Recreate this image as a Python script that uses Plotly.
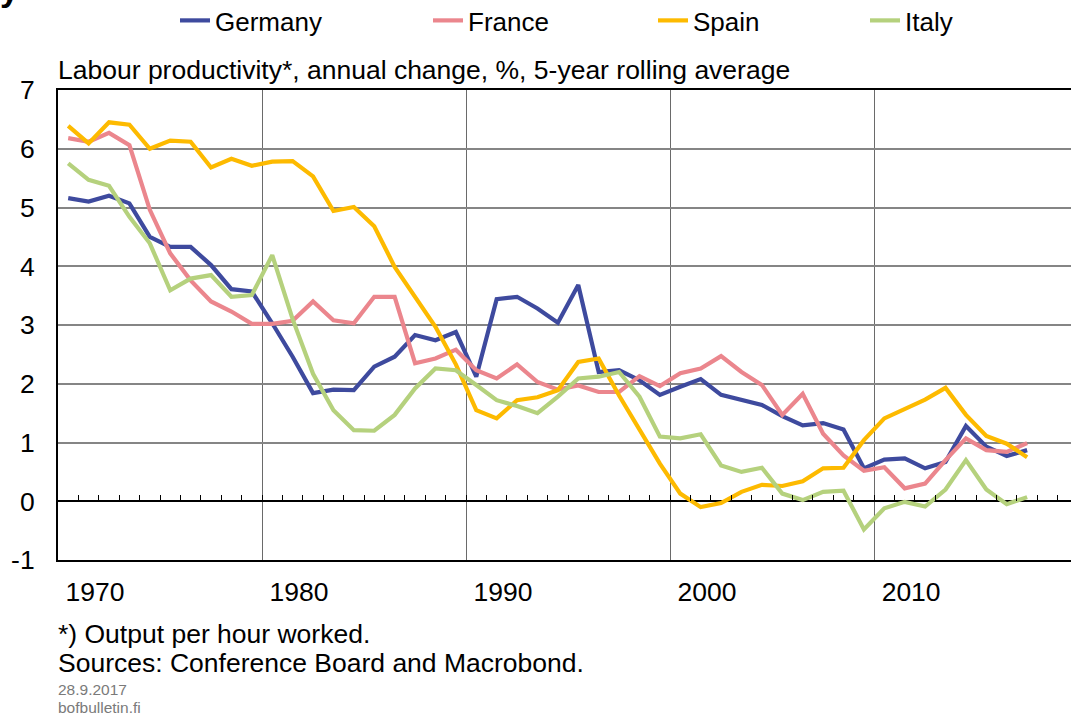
import plotly.graph_objects as go

# ---------------- data ----------------
years = list(range(1970, 2018))

germany = [5.16, 5.10, 5.20, 5.07, 4.50, 4.33, 4.33, 4.02, 3.61, 3.57,
           3.03, 2.46, 1.84, 1.90, 1.89, 2.29, 2.46, 2.83, 2.74, 2.88,
           2.12, 3.44, 3.48, 3.28, 3.04, 3.68, 2.20, 2.23, 2.06, 1.81,
           1.95, 2.08, 1.81, 1.72, 1.64, 1.45, 1.29, 1.33, 1.22, 0.56,
           0.71, 0.73, 0.56, 0.67, 1.28, 0.93, 0.77, 0.87]
france = [6.18, 6.12, 6.27, 6.06, 4.96, 4.22, 3.76, 3.40, 3.23, 3.02,
          3.02, 3.07, 3.40, 3.08, 3.03, 3.48, 3.48, 2.35, 2.43, 2.58,
          2.23, 2.09, 2.33, 2.03, 1.90, 1.97, 1.86, 1.86, 2.13, 1.96,
          2.18, 2.26, 2.47, 2.20, 1.98, 1.47, 1.83, 1.15, 0.78, 0.52,
          0.58, 0.22, 0.30, 0.70, 1.07, 0.87, 0.84, 0.99]
spain = [6.39, 6.09, 6.45, 6.41, 6.00, 6.14, 6.12, 5.68, 5.83, 5.71,
         5.78, 5.79, 5.53, 4.94, 5.01, 4.68, 3.99, 3.48, 2.97, 2.33,
         1.55, 1.41, 1.72, 1.77, 1.89, 2.37, 2.43, 1.80, 1.21, 0.64,
         0.13, -0.10, -0.03, 0.16, 0.28, 0.26, 0.34, 0.56, 0.57, 1.04,
         1.41, 1.58, 1.73, 1.93, 1.47, 1.11, 0.98, 0.75]
italy = [5.75, 5.47, 5.37, 4.84, 4.39, 3.59, 3.79, 3.85, 3.48, 3.51,
         4.19, 3.10, 2.17, 1.55, 1.21, 1.20, 1.47, 1.92, 2.26, 2.23,
         1.98, 1.72, 1.62, 1.50, 1.78, 2.09, 2.12, 2.20, 1.78, 1.10,
         1.07, 1.14, 0.61, 0.50, 0.57, 0.13, 0.02, 0.16, 0.18, -0.48,
         -0.12, -0.01, -0.09, 0.20, 0.70, 0.20, -0.05, 0.07]

series_names = ["Germany", "France", "Spain", "Italy"]
series_values = [germany, france, spain, italy]
series_colors = ["#3E4A9E", "#EB868D", "#FDBA00", "#B5D17D"]

x_tick_years = [1970, 1980, 1990, 2000, 2010]
x_tick_labels = ["1970", "1980", "1990", "2000", "2010"]
y_ticks = [-1, 0, 1, 2, 3, 4, 5, 6, 7]
y_tick_labels = ["-1", "0", "1", "2", "3", "4", "5", "6", "7"]

subtitle = "Labour productivity*, annual change, %, 5-year rolling average"
footnote1 = "*) Output per hour worked."
footnote2 = "Sources: Conference Board and Macrobond."
date_text = "28.9.2017"
site_text = "bofbulletin.fi"

# ---------------- layout geometry ----------------
W, H = 1071, 718
L, R, T, B = 58, 1071, 90, 560
PW, PH = R - L, B - T


def px(x):
    return (x - L) / PW


def py(y):
    return (B - y) / PH


FONT = "Arial, 'Liberation Sans', sans-serif"
TXT = 26.5
x_mid = [y + 0.5 for y in years]  # annual values plotted at mid-year
x_range = [1970, 2019.65]

fig = go.Figure()
legend_keys = ["legend", "legend2", "legend3", "legend4"]
for name, vals, col, lg in zip(series_names, series_values, series_colors, legend_keys):
    fig.add_trace(go.Scatter(
        x=x_mid, y=vals, name=name, mode="lines",
        line=dict(color=col, width=4.2), legend=lg,
    ))

# invisible trace to carry the yearly tick axis on the zero line
fig.add_trace(go.Scatter(x=years, y=[None] * len(years), xaxis="x2",
                         showlegend=False, hoverinfo="skip"))

legend_x_px = [175, 428, 653, 865]
legend_common = dict(orientation="h", xanchor="left", yanchor="top",
                     font=dict(family=FONT, size=26, color="#000000"),
                     bgcolor="rgba(0,0,0,0)", borderwidth=0)
legends = {}
for lg, lx in zip(legend_keys, legend_x_px):
    legends[lg] = dict(x=px(lx), y=py(-3), **legend_common)

fig.update_layout(
    width=W, height=H,
    margin=dict(l=L, r=W - R, t=T, b=H - B, pad=0, autoexpand=False),
    paper_bgcolor="white", plot_bgcolor="white",
    font=dict(family=FONT, size=TXT, color="#000000"),
    **legends,
    xaxis=dict(
        range=x_range, tickmode="array", tickvals=x_tick_years, ticktext=x_tick_labels,
        showgrid=True, gridcolor="#6a6a6a", gridwidth=1.4,
        showline=True, linecolor="#000000", linewidth=2, mirror=True,
        ticks="", ticklabelshift=37, ticklabelstandoff=7,
        tickfont=dict(family=FONT, size=TXT, color="#000000"),
        zeroline=False, fixedrange=True, automargin=False,
    ),
    xaxis2=dict(
        range=x_range, overlaying="x", anchor="free", position=py(501),
        side="bottom", tickmode="linear", tick0=1970, dtick=1,
        ticks="inside", ticklen=6, tickwidth=1.3, tickcolor="#000000",
        showticklabels=False, showgrid=False, showline=False, zeroline=False,
    ),
    yaxis=dict(
        range=[-1, 7], tickmode="array", tickvals=y_ticks, ticktext=y_tick_labels,
        showgrid=True, gridcolor="#858585", gridwidth=1.6,
        showline=True, linecolor="#000000", linewidth=2, mirror=False,
        zeroline=True, zerolinecolor="#000000", zerolinewidth=1.6,
        ticks="", ticklabelstandoff=16,
        tickfont=dict(family=FONT, size=TXT, color="#000000"),
        fixedrange=True, automargin=False,
    ),
)

ann = dict(xref="paper", yref="paper", showarrow=False, xanchor="left", yanchor="middle")
fig.add_annotation(text=subtitle, x=px(56), y=py(70), font=dict(family=FONT, size=TXT, color="#000000"), **ann)
fig.add_annotation(text=footnote1, x=px(56), y=py(634), font=dict(family=FONT, size=TXT, color="#000000"), **ann)
fig.add_annotation(text=footnote2, x=px(56), y=py(663), font=dict(family=FONT, size=TXT, color="#000000"), **ann)
fig.add_annotation(text=date_text, x=px(56), y=py(689), font=dict(family=FONT, size=15.5, color="#7a7a7a"), **ann)
fig.add_annotation(text=site_text, x=px(56), y=py(707), font=dict(family=FONT, size=15.5, color="#7a7a7a"), **ann)
# clipped remnant of the page heading at the very top-left
fig.add_annotation(text="<b>y</b>", x=px(-2), y=py(-11), font=dict(family=FONT, size=34, color="#000000"),
                   xref="paper", yref="paper", showarrow=False, xanchor="left", yanchor="middle")

fig.write_html("out.html", config={"displayModeBar": False},
               post_script="document.body.style.margin='0px';")
